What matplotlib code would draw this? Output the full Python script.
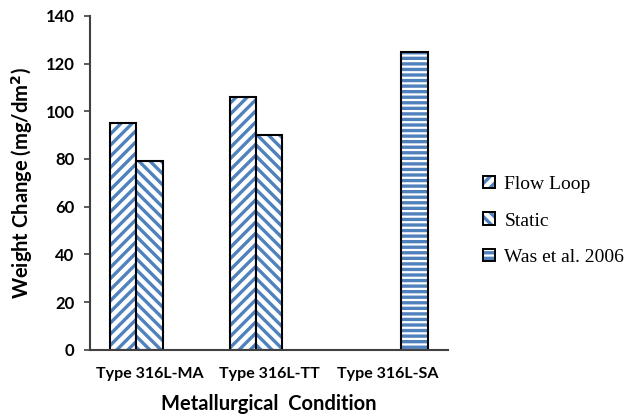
import numpy as np
import matplotlib
matplotlib.use("Agg")
import matplotlib.pyplot as plt
from matplotlib.patches import Patch
from matplotlib.legend_handler import HandlerTuple

# valeurs
conditions = ['Type 316L-MA', 'Type 316L-TT', 'Type 316L-SA']
series = ['Flow Loop', 'Static', 'Was et al. 2006']
flow_loop = [95, 106, np.nan]
static = [79, 90, np.nan]
was_2006 = [np.nan, np.nan, 125]
hatches = ['///', '\\\\\\', '---']

blue = '#4F81BD'
plt.rcParams['hatch.linewidth'] = 2.4

fig = plt.figure(figsize=(6.29, 4.17), dpi=100)
ax = fig.add_axes([0.143, 0.161, 0.569, 0.801])

x = np.arange(len(conditions))
w = 0.22
handles = []
for i, (vals, h) in enumerate(zip([flow_loop, static, was_2006], hatches)):
    pos = x + (i - 1) * w
    ax.bar(pos, vals, w, color='white', edgecolor=blue, hatch=h, linewidth=0)
    ax.bar(pos, vals, w, fill=False, edgecolor='black', linewidth=1.5)
    handles.append((Patch(facecolor='white', edgecolor=blue, hatch=h, linewidth=0),
                    Patch(fill=False, edgecolor='black', linewidth=1.4)))

ax.set_xlim(-0.5, 2.5)
ax.set_ylim(0, 140)
ax.set_yticks(range(0, 141, 20))
ax.set_xticks(x)
ax.set_xticklabels(conditions, fontsize=11.5, fontweight='bold', family='Lato')
for t in ax.get_yticklabels():
    t.set_fontsize(12)
    t.set_fontweight('bold')
    t.set_family('Lato')
ax.tick_params(axis='x', length=0, pad=12)
ax.tick_params(axis='y', direction='out', length=4, width=1.2, pad=7, color='#404040')
for s in ['top', 'right']:
    ax.spines[s].set_visible(False)
for s in ['left', 'bottom']:
    ax.spines[s].set_linewidth(1.5)
    ax.spines[s].set_color('#404040')

ax.set_ylabel('Weight Change (mg/dm$^\\mathbf{2}$)', fontsize=14.5, fontweight='bold',
              family='Lato', labelpad=8)
ax.set_xlabel('Metallurgical  Condition', fontsize=14.5, fontweight='bold',
              family='Lato', labelpad=10)

fig.legend(handles, series, handler_map={tuple: HandlerTuple(ndivide=1, pad=0)},
           loc='center left', bbox_to_anchor=(0.768, 0.47), frameon=False,
           borderpad=0, borderaxespad=0,
           prop={'family': 'Liberation Serif', 'size': 14},
           handlelength=0.6, handleheight=0.6, handletextpad=0.5, labelspacing=1.0)

fig.savefig('out.png', dpi=100)
